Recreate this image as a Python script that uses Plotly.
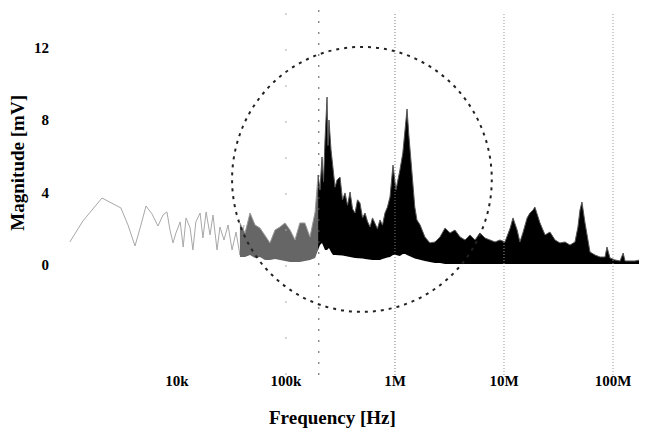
import plotly.graph_objects as go

# ---- data ----
# sparse low-frequency trace
low_f = [1.04e3, 1.37e3, 2.05e3, 3.06e3, 3.55e3, 4.12e3, 4.67e3, 5.20e3, 5.90e3, 6.69e3,
         7.44e3, 8.09e3, 8.63e3, 9.19e3, 9.79e3, 10.7e3, 11.4e3, 12.1e3, 13.2e3, 14.0e3,
         14.9e3, 16.3e3, 17.3e3, 18.5e3, 20.1e3, 21.4e3, 23.3e3, 24.8e3, 27.0e3, 29.4e3,
         32.0e3, 34.8e3, 37.8e3, 41.2e3]
low_mv = [1.27, 2.43, 3.70, 3.15, 2.21, 1.05, 2.21, 3.26, 2.82, 2.15,
          2.76, 2.93, 1.93, 1.22, 1.77, 2.38, 0.99, 2.60, 2.04, 0.83,
          2.38, 2.87, 1.49, 2.93, 1.66, 2.76, 0.83, 2.10, 1.38, 2.21,
          0.83, 1.82, 0.55, 2.21]

# dense spectrum, lighter part (below ~200 kHz): upper / lower envelope
grey_f = [37.8e3, 42.1e3, 46.8e3, 52.0e3, 57.7e3, 64.2e3, 71.3e3, 79.3e3, 88.1e3, 97.9e3,
          109e3, 121e3, 134e3, 149e3, 166e3, 185e3, 197e3]
grey_upper = [2.32, 1.77, 2.87, 2.21, 2.04, 1.66, 1.22, 1.93, 2.10, 2.32,
              1.93, 1.38, 2.32, 2.32, 1.55, 2.93, 4.97]
grey_lower = [0.44, 0.44, 0.55, 0.39, 0.44, 0.28, 0.28, 0.33, 0.28, 0.22,
              0.17, 0.17, 0.17, 0.22, 0.28, 0.39, 0.83]

# dense spectrum, dark part (200 kHz .. 200 MHz): upper / lower envelope
band_f = [197e3, 205e3, 214e3, 221e3, 228e3,
          238e3, 243e3, 248e3, 259e3, 270e3, 282e3, 294e3, 313e3, 330e3, 348e3, 367e3, 387e3, 408e3, 430e3, 453e3, 477e3,
          504e3, 531e3, 560e3, 590e3, 622e3, 656e3, 690e3, 729e3, 768e3, 809e3, 853e3, 900e3, 959e3, 1.02e6, 1.07e6, 1.11e6, 1.18e6,
          1.24e6, 1.29e6, 1.34e6, 1.40e6, 1.46e6, 1.52e6, 1.59e6, 1.70e6, 1.88e6, 2.09e6, 2.33e6,
          2.59e6, 2.88e6, 3.20e6, 3.55e6, 3.95e6, 4.39e6, 4.88e6, 5.42e6, 6.02e6, 6.69e6,
          7.44e6, 8.27e6, 9.19e6, 10.2e6, 11.4e6, 12.1e6, 13.2e6, 14.0e6, 14.9e6, 16.3e6,
          17.3e6, 18.5e6, 19.2e6, 21.4e6, 23.8e6, 26.4e6, 29.4e6, 32.6e6, 36.3e6, 40.3e6,
          44.8e6, 47.7e6, 49.8e6, 51.9e6, 55.4e6, 59.0e6, 61.5e6, 68.4e6, 76.0e6, 84.5e6,
          88.1e6, 93.8e6, 104e6, 116e6, 124e6, 129e6, 159e6, 177e6, 188e6, 200e6]
band_upper = [4.97, 4.14, 5.97, 4.60, 6.91,
              9.28, 6.60, 8.01, 6.35, 5.41, 4.30, 4.70, 4.86, 3.60, 3.98, 3.30, 4.03, 3.10, 2.87, 3.60, 3.43,
              2.60, 2.87, 2.40, 2.10, 2.60, 2.32, 2.00, 2.49, 2.20, 2.87, 3.20, 3.76, 5.52, 4.14, 4.90, 5.25, 6.19,
              7.46, 8.62, 7.18, 5.80, 4.14, 3.20, 2.49, 2.21, 1.55, 1.22, 1.27,
              1.55, 2.04, 1.77, 1.93, 1.55, 1.38, 1.66, 1.38, 1.77, 1.49,
              1.38, 1.27, 1.38, 1.27, 2.04, 2.60, 1.93, 1.27, 1.77, 2.60,
              2.87, 3.04, 3.20, 2.32, 1.66, 1.82, 1.38, 1.22, 1.27, 1.10,
              1.27, 2.10, 3.04, 3.48, 2.32, 1.38, 0.72, 0.55, 0.44, 0.44,
              0.99, 0.39, 0.28, 0.22, 0.66, 0.22, 0.22, 0.28, 0.66, 0.55]
band_lower = [0.83, 1.10, 1.22, 1.00, 0.83,
              0.83, 0.90, 0.94, 0.72, 0.55, 0.55, 0.55, 0.55, 0.52, 0.50, 0.46, 0.44, 0.41, 0.39, 0.39, 0.39,
              0.36, 0.33, 0.30, 0.28, 0.28, 0.28, 0.28, 0.28, 0.33, 0.39, 0.41, 0.44, 0.55, 0.55, 0.52, 0.50, 0.61,
              0.61, 0.55, 0.50, 0.44, 0.39, 0.36, 0.33, 0.28, 0.22, 0.17, 0.11,
              0.11, 0.06, 0.06, 0.06, 0.06, 0.06, 0.06, 0.06, 0.06, 0.06,
              0.06, 0.06, 0.06, 0.06, 0.06, 0.06, 0.06, 0.06, 0.06, 0.06,
              0.06, 0.06, 0.06, 0.06, 0.06, 0.06, 0.06, 0.06, 0.06, 0.06,
              0.06, 0.06, 0.06, 0.06, 0.06, 0.06, 0.06, 0.06, 0.06, 0.06,
              0.06, 0.06, 0.06, 0.06, 0.06, 0.06, 0.06, 0.06, 0.06, 0.06]

x_tickvals = [1e4, 1e5, 1e6, 1e7, 1e8]
x_ticktext = ["10k", "100k", "1M", "10M", "100M"]
y_tickvals = [0, 4, 8, 12]
y_ticktext = ["0", "4", "8", "12"]
marker_freq = 2e5  # dashed marker line
x_title = "Frequency [Hz]"
y_title = "Magnitude [mV]"

FONT = "Liberation Serif"

fig = go.Figure()
fig.add_trace(go.Scatter(x=low_f, y=low_mv, mode="lines",
                         line=dict(color="#a8a8a8", width=1), showlegend=False))
fig.add_trace(go.Scatter(x=grey_f, y=grey_lower, mode="lines",
                         line=dict(color="#666", width=0), showlegend=False))
fig.add_trace(go.Scatter(x=grey_f, y=grey_upper, mode="lines", fill="tonexty",
                         fillcolor="#666666", line=dict(color="#999", width=1),
                         showlegend=False))
fig.add_trace(go.Scatter(x=band_f, y=band_lower, mode="lines",
                         line=dict(color="#000", width=0), showlegend=False))
fig.add_trace(go.Scatter(x=band_f, y=band_upper, mode="lines", fill="tonexty",
                         fillcolor="#000", line=dict(color="#555", width=1),
                         showlegend=False))

shapes = []
# vertical reference lines
shapes.append(dict(type="line", xref="x", yref="paper", x0=x_tickvals[1], x1=x_tickvals[1],
                   y0=0, y1=1, line=dict(color="#aaa", width=1, dash="2px,34px")))
shapes.append(dict(type="line", xref="x", yref="paper", x0=marker_freq, x1=marker_freq,
                   y0=0, y1=1, line=dict(color="#555", width=1, dash="2px,9px")))
for i, v in enumerate(x_tickvals[2:]):
    shapes.append(dict(type="line", xref="x", yref="paper", x0=v, x1=v, y0=0, y1=0.985,
                       line=dict(color="#777" if i == 0 else "#999", width=1, dash="1px,2px")))
# dashed circle
shapes.append(dict(type="circle", xref="paper", yref="paper",
                   x0=0.305, x1=0.740, y0=0.172, y1=0.894,
                   line=dict(color="#222", width=2, dash="3px,5px")))

annotations = [
    dict(text="<b>" + x_title + "</b>", xref="paper", yref="paper", x=0.474, y=-0.116,
         xanchor="center", yanchor="middle", showarrow=False,
         font=dict(family=FONT, size=19, color="#000")),
    dict(text="<b>" + y_title + "</b>", xref="paper", yref="paper", x=-0.055, y=0.579,
         xanchor="center", yanchor="middle", showarrow=False, textangle=-90,
         font=dict(family=FONT, size=19, color="#000")),
]

fig.update_layout(
    width=639, height=433,
    margin=dict(l=42, r=0, t=0, b=66),
    paper_bgcolor="white", plot_bgcolor="white",
    shapes=shapes, annotations=annotations,
    font=dict(family=FONT, color="#000"),
    xaxis=dict(type="log", range=[2.835, 8.312], showgrid=False, zeroline=False,
               showline=False, tickvals=x_tickvals, ticktext=x_ticktext,
               tickfont=dict(family=FONT, size=15, color="#000", weight="bold"),
               ticks="", automargin=False, ticklabelstandoff=-5),
    yaxis=dict(range=[-6.08, 14.2], showgrid=False, zeroline=False, showline=False,
               tickvals=y_tickvals, ticktext=y_ticktext, ticks="", automargin=False,
               tickfont=dict(family=FONT, size=15, color="#000", weight="bold")),
)

fig.write_html("out.html")
